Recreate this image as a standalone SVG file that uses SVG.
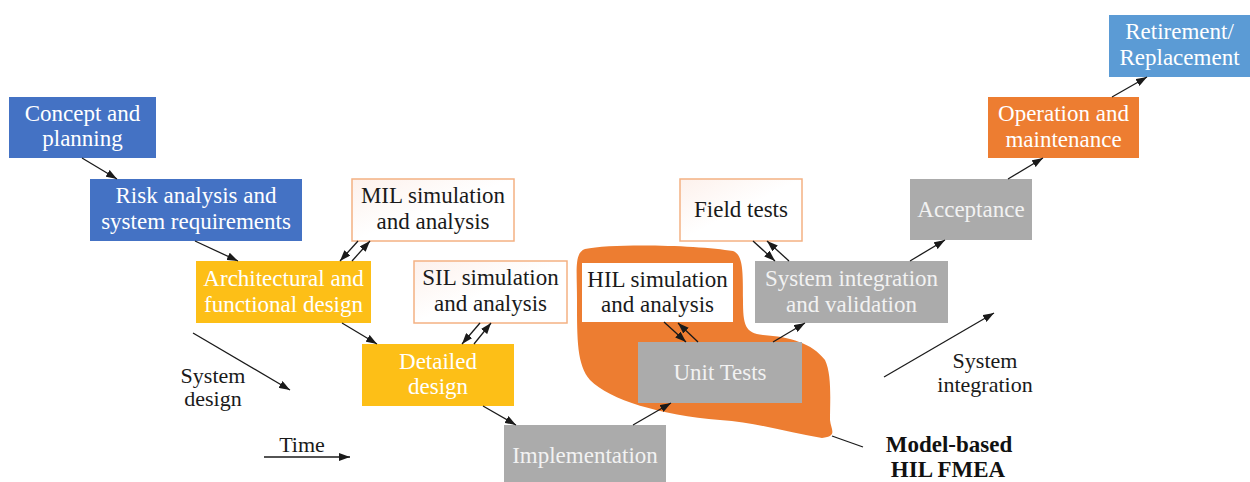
<svg xmlns="http://www.w3.org/2000/svg" width="1250" height="482" viewBox="0 0 1250 482">
<style>
text{font-family:"Liberation Serif","Times New Roman",serif;font-size:23px;text-anchor:middle}
.w{fill:#ffffff}
.g{fill:#f2f2f2}
.k{fill:#1a1a1a}
.blue{fill:#4472c4}
.lblue{fill:#5b9bd5}
.yel{fill:#fdbf17}
.gray{fill:#ababab}
.orng{fill:#ed7d31}
.sim{fill:url(#simg);stroke:#f4b183;stroke-width:1.5}
.c line{stroke:#1a1a1a;stroke-width:1.3;fill:none}
.c .a{marker-end:url(#ah)}
.lab{fill:#1a1a1a;font-size:22px}
.bold{font-weight:bold;fill:#111}
</style>
<defs>
<marker id="ah" markerUnits="userSpaceOnUse" markerWidth="12" markerHeight="8" refX="11" refY="4" orient="auto">
<path d="M0,0 L11,4 L0,8 Z" fill="#1a1a1a"/>
</marker>
<linearGradient id="simg" x1="0" y1="0" x2="1" y2="1">
<stop offset="0" stop-color="#fdf1ec"/>
<stop offset="0.5" stop-color="#ffffff"/>
<stop offset="1" stop-color="#ffffff"/>
</linearGradient>
</defs>
<rect width="1250" height="482" fill="#ffffff"/>

<g id="hil-blob">
<path class="orng" d="M585,249 C612,243 700,245 733,251 C743,255 743,270 743,300 C743,325 745,333 763,335 C790,337 812,343 825,360 C832,375 830,400 830,420 C831,430 838,436 822,438 C790,433 760,423 720,420 C660,415 610,400 590,380 C577,365 577,340 577,300 C577,270 574,253 585,249 Z"/>
</g>

<g id="concept">
<rect class="blue" x="9" y="97" width="147" height="61"/>
<text class="w" x="82.5" y="121">Concept and</text>
<text class="w" x="82.5" y="146">planning</text>
</g>
<g id="risk">
<rect class="blue" x="90" y="179" width="212" height="62"/>
<text class="w" x="196" y="203">Risk analysis and</text>
<text class="w" x="196" y="229">system requirements</text>
</g>
<g id="mil">
<rect class="sim" x="352" y="179" width="162" height="62"/>
<text class="k" x="433" y="203">MIL simulation</text>
<text class="k" x="433" y="229">and analysis</text>
</g>
<g id="arch">
<rect class="yel" x="196" y="261" width="175" height="62"/>
<text class="w" x="283.5" y="286">Architectural and</text>
<text class="w" x="283.5" y="312">functional design</text>
</g>
<g id="sil">
<rect class="sim" x="414" y="261" width="153" height="62"/>
<text class="k" x="490.5" y="285">SIL simulation</text>
<text class="k" x="490.5" y="311">and analysis</text>
</g>
<g id="detailed">
<rect class="yel" x="362" y="344" width="152" height="62"/>
<text class="w" x="438" y="369">Detailed</text>
<text class="w" x="438" y="394">design</text>
</g>
<g id="implementation">
<rect class="gray" x="504" y="425" width="162" height="60"/>
<text class="g" x="585" y="463">Implementation</text>
</g>
<g id="hil">
<rect fill="#ffffff" x="582" y="263" width="151" height="59"/>
<text class="k" x="657.5" y="287">HIL simulation</text>
<text class="k" x="657.5" y="312">and analysis</text>
</g>
<g id="unit">
<rect class="gray" x="638" y="342" width="164" height="61"/>
<text class="g" x="720" y="380">Unit Tests</text>
</g>
<g id="field">
<rect class="sim" x="680" y="179" width="122" height="62"/>
<text class="k" x="741" y="217">Field tests</text>
</g>
<g id="sysint">
<rect class="gray" x="755" y="261" width="193" height="62"/>
<text class="g" x="851.5" y="286">System integration</text>
<text class="g" x="851.5" y="312">and validation</text>
</g>
<g id="acceptance">
<rect class="gray" x="910" y="179" width="122" height="61"/>
<text class="g" x="971" y="217">Acceptance</text>
</g>
<g id="operation">
<rect class="orng" x="988" y="97" width="151" height="61"/>
<text class="w" x="1063.5" y="121">Operation and</text>
<text class="w" x="1063.5" y="147">maintenance</text>
</g>
<g id="retirement">
<rect class="lblue" x="1109" y="15" width="141" height="62"/>
<text class="w" x="1179.5" y="39">Retirement/</text>
<text class="w" x="1179.5" y="65">Replacement</text>
</g>

<g id="connectors" class="c">
<line class="a" x1="82" y1="158" x2="117" y2="179"/>
<line class="a" x1="195" y1="241" x2="238" y2="261"/>
<line class="a" x1="358" y1="241" x2="340" y2="261"/>
<line class="a" x1="352" y1="261" x2="370" y2="241"/>
<line class="a" x1="342" y1="323" x2="377" y2="344"/>
<line class="a" x1="480" y1="323" x2="462" y2="344"/>
<line class="a" x1="474" y1="344" x2="491" y2="323"/>
<line class="a" x1="483" y1="406" x2="516" y2="425"/>
<line class="a" x1="633" y1="425" x2="671" y2="403"/>
<line class="a" x1="664" y1="322" x2="686" y2="342"/>
<line class="a" x1="698" y1="342" x2="678" y2="323"/>
<line class="a" x1="773" y1="342" x2="805" y2="323"/>
<line class="a" x1="753" y1="241" x2="775" y2="261"/>
<line class="a" x1="789" y1="261" x2="767" y2="241"/>
<line class="a" x1="910" y1="261" x2="945" y2="240"/>
<line class="a" x1="1008" y1="179" x2="1043" y2="158"/>
<line class="a" x1="1112" y1="97" x2="1147" y2="77"/>
<line class="a" x1="193" y1="333" x2="290" y2="390"/>
<line class="a" x1="264" y1="457" x2="350" y2="457"/>
<line class="a" x1="884" y1="377" x2="994" y2="313"/>
<line x1="832" y1="436" x2="863" y2="447"/>
</g>

<g id="labels">
<text class="lab" x="213" y="383">System</text>
<text class="lab" x="213" y="406">design</text>
<text class="lab" x="302" y="452">Time</text>
<text class="lab" x="985" y="368">System</text>
<text class="lab" x="985" y="392">integration</text>
<text class="bold" x="949" y="452">Model-based</text>
<text class="bold" x="948" y="477">HIL FMEA</text>
</g>
</svg>
